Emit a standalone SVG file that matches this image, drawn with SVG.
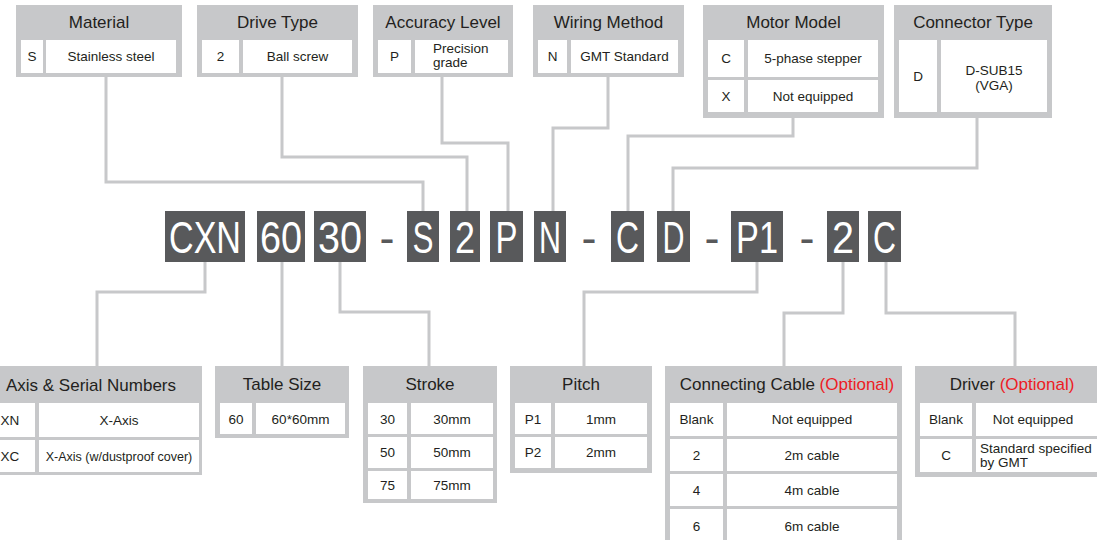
<svg xmlns="http://www.w3.org/2000/svg" width="1097" height="540" viewBox="0 0 1097 540">
<style>
.box{fill:#c7c8ca}
.cell{fill:#fff}
.hd{font-family:"Liberation Sans",Arial,sans-serif;font-size:17px;fill:#231f20;text-anchor:middle}
.tx{font-family:"Liberation Sans",Arial,sans-serif;font-size:13.5px;fill:#231f20;text-anchor:middle}
.tl{text-anchor:start}
.opt{fill:#ed1c24}
.code{fill:#58595b}
.ct{font-family:"Liberation Sans",Arial,sans-serif;font-size:45px;fill:#fff;text-anchor:middle}
.dash{font-family:"Liberation Sans",Arial,sans-serif;font-size:45px;fill:#58595b;text-anchor:middle}
.ln{stroke:#c7c8ca;stroke-width:3;fill:none}
</style>
<rect width="1097" height="540" fill="#fff"/>

<g id="connectors">
<path class="ln" d="M106 77V182H423V211"/>
<path class="ln" d="M282 77V157H467V211"/>
<path class="ln" d="M442 77V143H508V211"/>
<path class="ln" d="M608 77V128H553V211"/>
<path class="ln" d="M793 118V136H628V211"/>
<path class="ln" d="M977 118V168H673V211"/>
<path class="ln" d="M205 262V292H97V366"/>
<path class="ln" d="M282 262V366"/>
<path class="ln" d="M340 262V312H429V366"/>
<path class="ln" d="M757 262V292H584V366"/>
<path class="ln" d="M843 262V313H784V366"/>
<path class="ln" d="M886 262V313H1015V366"/>
</g>

<g id="material">
<rect class="box" x="16" y="5" width="166" height="72"/>
<text class="hd" x="99" y="28">Material</text>
<rect class="cell" x="21" y="40" width="22" height="33"/>
<rect class="cell" x="46" y="40" width="130" height="33"/>
<text class="tx" x="32" y="61">S</text>
<text class="tx" x="111" y="61">Stainless steel</text>
</g>

<g id="drive-type">
<rect class="box" x="197" y="5" width="161" height="72"/>
<text class="hd" x="277.5" y="28">Drive Type</text>
<rect class="cell" x="202" y="40" width="37" height="33"/>
<rect class="cell" x="243" y="40" width="109" height="33"/>
<text class="tx" x="220.5" y="61">2</text>
<text class="tx" x="297.5" y="61">Ball screw</text>
</g>

<g id="accuracy-level">
<rect class="box" x="373" y="5" width="140" height="72"/>
<text class="hd" x="443" y="28">Accuracy Level</text>
<rect class="cell" x="378" y="40" width="33" height="33"/>
<rect class="cell" x="415" y="40" width="93" height="33"/>
<text class="tx" x="394.5" y="61">P</text>
<text class="tx tl" x="433" y="53">Precision</text>
<text class="tx tl" x="433" y="67">grade</text>
</g>

<g id="wiring-method">
<rect class="box" x="533" y="5" width="151" height="72"/>
<text class="hd" x="608.5" y="28">Wiring Method</text>
<rect class="cell" x="538" y="40" width="29" height="33"/>
<rect class="cell" x="571" y="40" width="107" height="33"/>
<text class="tx" x="552.5" y="61">N</text>
<text class="tx" x="624.5" y="61">GMT Standard</text>
</g>

<g id="motor-model">
<rect class="box" x="703" y="5" width="181" height="113"/>
<text class="hd" x="793.5" y="28">Motor Model</text>
<rect class="cell" x="708" y="40" width="36" height="37"/>
<rect class="cell" x="748" y="40" width="130" height="37"/>
<rect class="cell" x="708" y="80" width="36" height="32"/>
<rect class="cell" x="748" y="80" width="130" height="32"/>
<text class="tx" x="726" y="63">C</text>
<text class="tx" x="813" y="63">5-phase stepper</text>
<text class="tx" x="726" y="100.5">X</text>
<text class="tx" x="813" y="100.5">Not equipped</text>
</g>

<g id="connector-type">
<rect class="box" x="894" y="5" width="158" height="113"/>
<text class="hd" x="973" y="28">Connector Type</text>
<rect class="cell" x="899" y="40" width="38" height="72"/>
<rect class="cell" x="941" y="40" width="106" height="72"/>
<text class="tx" x="918" y="81">D</text>
<text class="tx" x="994" y="75">D-SUB15</text>
<text class="tx" x="994" y="90">(VGA)</text>
</g>

<g id="code">
<rect class="code" x="165" y="211" width="80" height="51"/>
<text class="ct" x="205" y="253" textLength="72" lengthAdjust="spacingAndGlyphs">CXN</text>
<rect class="code" x="257" y="211" width="48" height="51"/>
<text class="ct" x="281" y="253" textLength="42" lengthAdjust="spacingAndGlyphs">60</text>
<rect class="code" x="314" y="211" width="52" height="51"/>
<text class="ct" x="340" y="253" textLength="44" lengthAdjust="spacingAndGlyphs">30</text>
<text class="dash" x="387" y="253">-</text>
<rect class="code" x="407" y="211" width="32" height="51"/>
<text class="ct" x="423" y="253" textLength="21" lengthAdjust="spacingAndGlyphs">S</text>
<rect class="code" x="450" y="211" width="30" height="51"/>
<text class="ct" x="465" y="253" textLength="20" lengthAdjust="spacingAndGlyphs">2</text>
<rect class="code" x="490" y="211" width="33" height="51"/>
<text class="ct" x="506.5" y="253" textLength="22" lengthAdjust="spacingAndGlyphs">P</text>
<rect class="code" x="534" y="211" width="32" height="51"/>
<text class="ct" x="550" y="253" textLength="22" lengthAdjust="spacingAndGlyphs">N</text>
<text class="dash" x="589" y="253">-</text>
<rect class="code" x="611" y="211" width="33" height="51"/>
<text class="ct" x="627.5" y="253" textLength="23" lengthAdjust="spacingAndGlyphs">C</text>
<rect class="code" x="657" y="211" width="33" height="51"/>
<text class="ct" x="673.5" y="253" textLength="22" lengthAdjust="spacingAndGlyphs">D</text>
<text class="dash" x="712" y="253">-</text>
<rect class="code" x="731" y="211" width="52" height="51"/>
<text class="ct" x="757" y="253" textLength="42" lengthAdjust="spacingAndGlyphs">P1</text>
<text class="dash" x="807" y="253">-</text>
<rect class="code" x="827" y="211" width="32" height="51"/>
<text class="ct" x="843" y="253" textLength="22" lengthAdjust="spacingAndGlyphs">2</text>
<rect class="code" x="868" y="211" width="33" height="51"/>
<text class="ct" x="884.5" y="253" textLength="23" lengthAdjust="spacingAndGlyphs">C</text>
</g>

<g id="axis-serial">
<rect class="box" x="-20" y="366" width="222" height="109"/>
<text class="hd" x="91" y="391">Axis &amp; Serial Numbers</text>
<rect class="cell" x="-15" y="403" width="50" height="34"/>
<rect class="cell" x="39" y="403" width="160" height="34"/>
<rect class="cell" x="-15" y="440" width="50" height="32"/>
<rect class="cell" x="39" y="440" width="160" height="32"/>
<text class="tx" x="10" y="425">XN</text>
<text class="tx" x="119" y="425">X-Axis</text>
<text class="tx" x="10" y="461">XC</text>
<text class="tx" x="119" y="461" style="font-size:12.5px">X-Axis (w/dustproof cover)</text>
</g>

<g id="table-size">
<rect class="box" x="215" y="366" width="134" height="72"/>
<text class="hd" x="282" y="390">Table Size</text>
<rect class="cell" x="220" y="403" width="32" height="31"/>
<rect class="cell" x="256" y="403" width="89" height="31"/>
<text class="tx" x="236" y="423.5">60</text>
<text class="tx" x="300.5" y="423.5">60*60mm</text>
</g>

<g id="stroke">
<rect class="box" x="363" y="366" width="134" height="137"/>
<text class="hd" x="430" y="390">Stroke</text>
<rect class="cell" x="368" y="403" width="39" height="31"/>
<rect class="cell" x="411" y="403" width="82" height="31"/>
<rect class="cell" x="368" y="437" width="39" height="31"/>
<rect class="cell" x="411" y="437" width="82" height="31"/>
<rect class="cell" x="368" y="471" width="39" height="28"/>
<rect class="cell" x="411" y="471" width="82" height="28"/>
<text class="tx" x="387.5" y="423.5">30</text>
<text class="tx" x="452" y="423.5">30mm</text>
<text class="tx" x="387.5" y="457">50</text>
<text class="tx" x="452" y="457">50mm</text>
<text class="tx" x="387.5" y="490">75</text>
<text class="tx" x="452" y="490">75mm</text>
</g>

<g id="pitch">
<rect class="box" x="510" y="366" width="142" height="107"/>
<text class="hd" x="581" y="390">Pitch</text>
<rect class="cell" x="515" y="403" width="36" height="31"/>
<rect class="cell" x="555" y="403" width="92" height="31"/>
<rect class="cell" x="515" y="437" width="36" height="31"/>
<rect class="cell" x="555" y="437" width="92" height="31"/>
<text class="tx" x="533" y="423.5">P1</text>
<text class="tx" x="601" y="423.5">1mm</text>
<text class="tx" x="533" y="457">P2</text>
<text class="tx" x="601" y="457">2mm</text>
</g>

<g id="connecting-cable">
<rect class="box" x="665" y="366" width="237" height="180"/>
<text class="hd" x="787" y="390">Connecting Cable <tspan class="opt">(Optional)</tspan></text>
<rect class="cell" x="670" y="403" width="53" height="33"/>
<rect class="cell" x="727" y="403" width="170" height="33"/>
<rect class="cell" x="670" y="439" width="53" height="32"/>
<rect class="cell" x="727" y="439" width="170" height="32"/>
<rect class="cell" x="670" y="474" width="53" height="32"/>
<rect class="cell" x="727" y="474" width="170" height="32"/>
<rect class="cell" x="670" y="509" width="53" height="40"/>
<rect class="cell" x="727" y="509" width="170" height="40"/>
<text class="tx" x="696.5" y="424">Blank</text>
<text class="tx" x="812" y="424">Not equipped</text>
<text class="tx" x="696.5" y="460">2</text>
<text class="tx" x="812" y="460">2m cable</text>
<text class="tx" x="696.5" y="495">4</text>
<text class="tx" x="812" y="495">4m cable</text>
<text class="tx" x="696.5" y="531">6</text>
<text class="tx" x="812" y="531">6m cable</text>
</g>

<g id="driver">
<rect class="box" x="915" y="366" width="190" height="111"/>
<text class="hd" x="1012" y="390">Driver <tspan class="opt">(Optional)</tspan></text>
<rect class="cell" x="920" y="403" width="52" height="33"/>
<rect class="cell" x="976" y="403" width="125" height="33"/>
<rect class="cell" x="920" y="439" width="52" height="33"/>
<rect class="cell" x="976" y="439" width="125" height="33"/>
<text class="tx" x="946" y="424">Blank</text>
<text class="tx" x="1033" y="424">Not equipped</text>
<text class="tx" x="946" y="460">C</text>
<text class="tx tl" x="980" y="453">Standard specified</text>
<text class="tx tl" x="980" y="467">by GMT</text>
</g>
</svg>
